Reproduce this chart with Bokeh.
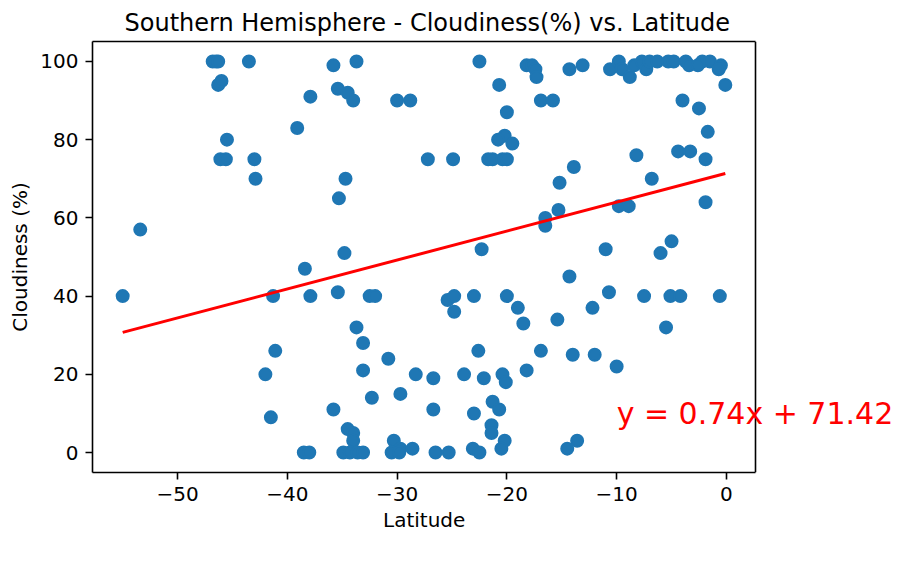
from bokeh.plotting import figure
from bokeh.models import Range1d, Label, FixedTicker, LinearAxis, Span, Title
from bokeh.embed import file_html
from bokeh.resources import INLINE

latitude = [
    -46.8, -46.5, -46.3, -43.5, -46.3, -46.0, -45.5, -46.1, -45.6, -43.0, -42.9, -53.4, -55.0, -39.1, -37.9,
    -35.8, -33.7, -35.4, -34.5, -34.0, -30.0, -28.8, -22.5, -27.2, -24.9, -34.7, -35.3, -34.8, -22.3,
    -20.7, -20.0, -20.2, -20.8, -19.5, -21.7, -21.3, -20.4, -20.0,
    -18.2, -17.7, -17.4, -17.3, -14.3, -13.1, -10.6, -9.8, -9.5, -8.8, -8.4, -7.7, -7.3, -7.0, -6.3,
    -5.3, -4.8, -3.7, -3.4, -2.2, -2.6, -1.5, -0.5, -0.7, -0.1,
    -16.9, -15.8, -4.0, -2.5, -1.7, -4.4, -3.3, -1.9, -8.2, -13.9, -6.8, -15.2, -1.9, -9.8, -8.9, -15.3,
    -16.5, -16.5, -11.0, -5.0, -6.0,
    -14.3, -10.7, -7.5, -5.1, -4.2, -0.6, -12.2, -5.5, -18.5, -19.0, -15.4, -16.9, -14.0, -12.0, -10.0,
    -18.2, -13.6, -14.5,
    -38.4, -37.9, -35.4, -32.5, -32.0, -25.4, -24.8, -24.8, -23.0, -20.0, -33.7, -33.1, -30.8, -22.6,
    -33.1, -28.3, -26.7, -23.9, -22.1, -20.4, -20.1, -32.3, -29.7, -35.8, -26.7, -23.0, -21.3, -20.7,
    -21.4, -21.4, -34.5, -34.0, -34.0, -30.3, -20.2, -20.5, -29.7, -28.6, -23.1,
    -38.5, -38.0, -34.9, -34.3, -33.6, -33.1, -30.5, -29.8, -26.5, -25.3, -22.5,
    -41.3, -41.1, -42.0, -41.5,
]
cloudiness = [
    100, 100, 100, 100, 94, 95, 80, 75, 75, 75, 70, 57, 40, 83, 91,
    99, 100, 93, 92, 90, 90, 90, 100, 75, 75, 70, 65, 51, 52,
    94, 87, 81, 80, 79, 75, 75, 75, 75,
    99, 99, 98, 96, 98, 99, 98, 100, 98, 96, 99, 100, 98, 100, 100,
    100, 100, 100, 99, 100, 99, 100, 99, 98, 94,
    90, 90, 90, 88, 82, 77, 77, 75, 76, 73, 70, 69, 64, 63, 63, 62,
    60, 58, 52, 54, 51,
    45, 41, 40, 40, 40, 40, 37, 32, 33, 37, 34, 26, 25, 25, 22,
    21, 3, 1,
    47, 40, 41, 40, 40, 39, 40, 36, 40, 40, 32, 28, 24, 26,
    21, 20, 19, 20, 19, 20, 18, 14, 15, 11, 11, 10, 13, 11,
    7, 5, 6, 5, 3, 3, 3, 1, 1, 1, 1,
    0, 0, 0, 0, 0, 0, 0, 0, 0, 0, 0,
    40, 26, 20, 9,
]

slope = 0.74
intercept = 71.42
equation = "y = 0.74x + 71.42"
equation_pos = (-10, 10)

x_ticks = [-50, -40, -30, -20, -10, 0]
y_ticks = [0, 20, 40, 60, 80, 100]

FONT = "DejaVu Sans"
# visible axes box (data units) and its pixel size
X0, X1, Y0, Y1 = -57.75, 2.65, -5.1, 105.1
BOX_W, FH = 663, 431
# the drawing frame is widened to the right so the equation text is not clipped
FW = 808
X1_FRAME = X0 + (X1 - X0) * FW / BOX_W

p = figure(
    frame_width=FW, frame_height=FH,
    min_border_left=92, min_border_right=1, min_border_top=41, min_border_bottom=89,
    x_range=Range1d(X0, X1_FRAME), y_range=Range1d(Y0, Y1),
    output_backend="svg", toolbar_location=None,
    title="Southern Hemisphere - Cloudiness(%) vs. Latitude",
)
p.title.text_font = FONT
p.title.text_font_size = "24px"
p.title.text_font_style = "normal"
p.title.align = "left"
p.title.offset = 32
p.title.text_color = "black"

p.outline_line_color = None
p.xgrid.visible = False
p.ygrid.visible = False

for ax in (p.xaxis[0], p.yaxis[0]):
    ax.axis_line_color = "black"
    ax.axis_line_width = 1.6
    ax.major_tick_line_width = 1.6
    ax.major_tick_line_color = "black"
    ax.major_tick_out = 7
    ax.major_tick_in = 0
    ax.minor_tick_line_color = None
    ax.major_label_text_font = FONT
    ax.major_label_text_font_size = "20px"
    ax.major_label_text_color = "black"
    ax.major_label_standoff = 7
    ax.axis_label_text_font = FONT
    ax.axis_label_text_font_size = "20px"
    ax.axis_label_text_font_style = "normal"
    ax.axis_label_text_color = "black"

p.xaxis[0].bounds = (X0, X1)
p.yaxis[0].bounds = (Y0, Y1)
p.xaxis[0].ticker = FixedTicker(ticks=x_ticks)
p.yaxis[0].ticker = FixedTicker(ticks=y_ticks)
p.xaxis[0].major_label_overrides = {t: ("\u2212" + str(-t) if t < 0 else str(t)) for t in x_ticks}
p.yaxis.axis_label = "Cloudiness (%)"
p.yaxis[0].axis_label_standoff = 5

# x-axis label, centred under the visible box (not the widened frame)
xlabel = "Latitude"
xlabel_width = 82
p.add_layout(Title(text=xlabel, align="left", offset=BOX_W / 2 - xlabel_width / 2,
                   text_font=FONT, text_font_size="20px", text_font_style="normal",
                   text_color="black", standoff=4), "below")

# top edge of the box
top = LinearAxis(bounds=(X0, X1), ticker=FixedTicker(ticks=[]), major_label_text_font_size="0px",
                 axis_line_color="black", axis_line_width=1.6, major_tick_line_color=None,
                 minor_tick_line_color=None)
p.add_layout(top, "above")
# right edge of the box
p.add_layout(Span(location=X1, dimension="height", line_color="black", line_width=1.6))

p.scatter(latitude, cloudiness, size=12, color="#1f77b4", line_width=2, marker="circle")

x_line = [min(latitude), max(latitude)]
y_line = [slope * x + intercept for x in x_line]
p.line(x_line, y_line, line_color="red", line_width=3)

p.add_layout(Label(x=equation_pos[0], y=equation_pos[1], text=equation,
                   text_color="red", text_font=FONT,
                   text_font_size="30px", text_baseline="alphabetic", text_align="left"))

open("out.html", "w").write(file_html(p, INLINE))
